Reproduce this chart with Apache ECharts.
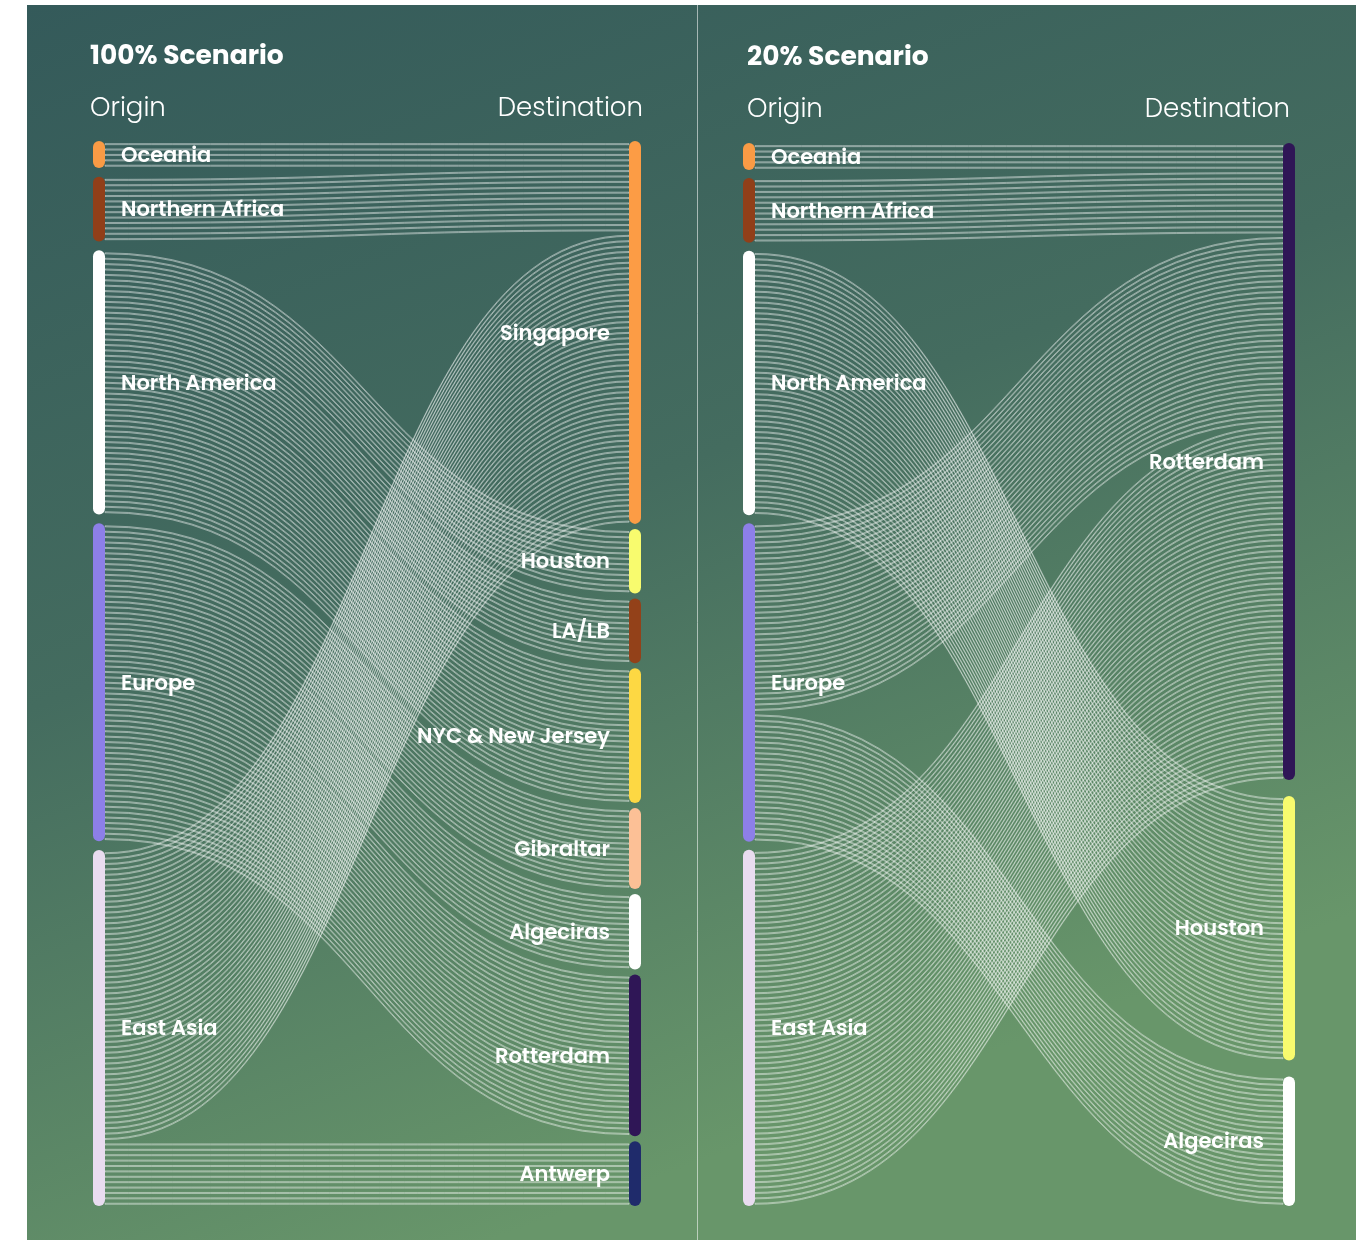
<!DOCTYPE html>
<html>
<head>
<meta charset="utf-8">
<script src="https://cdn.jsdelivr.net/npm/echarts@6/dist/echarts.min.js"></script>
<style>
  html, body { margin: 0; padding: 0; background: #fff; }
  #chart { width: 1368px; height: 1240px; }
</style>
</head>
<body>
<div id="chart"></div>
<script>
// origins are the same for both scenarios
const origins = ["Oceania", "Northern Africa", "North America", "Europe", "East Asia"];
const ports100 = ["Singapore", "Houston", "LA/LB", "NYC & New Jersey", "Gibraltar", "Algeciras", "Rotterdam", "Antwerp"];
const ports20 = ["Rotterdam", "Houston", "Algeciras"];

// [origin, destination, number of strands]
const flows100 = [
  ["Oceania", "Singapore", 5],
  ["Northern Africa", "Singapore", 12],
  ["North America", "Houston", 12],
  ["North America", "LA/LB", 12],
  ["North America", "NYC & New Jersey", 25],
  ["Europe", "Gibraltar", 15],
  ["Europe", "Algeciras", 14],
  ["Europe", "Rotterdam", 30],
  ["East Asia", "Singapore", 54],
  ["East Asia", "Antwerp", 12]
];
const flows20 = [
  ["Oceania", "Rotterdam", 5],
  ["Northern Africa", "Rotterdam", 12],
  ["North America", "Houston", 49],
  ["Europe", "Rotterdam", 35],
  ["Europe", "Algeciras", 24],
  ["East Asia", "Rotterdam", 66]
];

const colors = {
  "Oceania": "#f99b45",
  "Northern Africa": "#913f19",
  "North America": "#ffffff",
  "Europe": "#8d7fe8",
  "East Asia": "#e9dcf0",
  "Singapore": "#fc9c45",
  "Houston": "#f8fb6e",
  "LA/LB": "#934119",
  "NYC & New Jersey": "#fdd843",
  "Gibraltar": "#fcc096",
  "Algeciras": "#ffffff",
  "Rotterdam": "#2f1656",
  "Antwerp": "#1f2b6b"
};

const FONT = "Poppins, Inter, 'Noto Sans', sans-serif";
const HAIR = 0.02;

// each unit becomes a hairline link padded by two invisible halves
const strands = (flows) => {
  const out = [];
  const pad = (1 - HAIR) / 2;
  flows.forEach(([s, t, v]) => {
    for (let i = 0; i < v; i++) {
      out.push({ source: s, target: t, value: pad });
      out.push({ source: s, target: t, value: HAIR, lineStyle: { borderWidth: 1 } });
      out.push({ source: s, target: t, value: pad });
    }
  });
  return out;
};

// keep the given order and stretch every column over the full height
const nodes = (ports, flows, h, gap) => {
  const total = {};
  flows.forEach(([s, t, v]) => {
    total[s] = (total[s] || 0) + v;
    total[t] = (total[t] || 0) + v;
  });
  const cols = [origins, ports];
  const colSum = (c) => c.reduce((a, n) => a + total[n], 0);
  const ky = Math.min(...cols.map((c) => (h - (c.length - 1) * gap) / colSum(c)));
  const out = [];
  cols.forEach((c) => {
    const g = (h - colSum(c) * ky) / (c.length - 1);
    let y = 0;
    c.forEach((n) => {
      out.push({ name: n, localY: y / h, itemStyle: { color: colors[n] } });
      y += total[n] * ky + g;
    });
  });
  return out;
};

const sankey = (box, gap, ports, flows) => ({
  type: "sankey",
  left: box[0], top: box[1], width: box[2], height: box[3],
  nodeWidth: 12,
  nodeGap: gap,
  layoutIterations: 0,
  draggable: false,
  silent: true,
  emphasis: { disabled: true },
  data: nodes(ports, flows, box[3], gap),
  links: strands(flows),
  itemStyle: { borderWidth: 0, borderRadius: 6 },
  lineStyle: {
    color: "rgba(0,0,0,0)",
    borderColor: "rgba(255,255,255,0.45)",
    borderWidth: 0,
    opacity: 1,
    curveness: 0.5
  },
  label: { color: "#fff", fontFamily: FONT, fontWeight: 600, fontSize: 21, offset: [0, 2] },
  levels: [
    { depth: 0, label: { position: "right", distance: 16 } },
    { depth: 1, label: { position: "left", distance: 19 } }
  ]
});

const chart = echarts.init(document.getElementById("chart"));

const head = (text, pos, size, weight) => ({
  text: text,
  ...pos,
  padding: 0,
  textStyle: { color: "#fff", fontFamily: FONT, fontSize: size, fontWeight: weight }
});

chart.setOption({
  animation: false,
  backgroundColor: "#fff",
  graphic: [
    {
      type: "rect", z: -10,
      shape: { x: 27, y: 5, width: 1329, height: 1235 },
      style: {
        fill: new echarts.graphic.LinearGradient(0, 0, 0.35, 1, [
          { offset: 0, color: "#345a5a" },
          { offset: 0.5, color: "#446c5f" },
          { offset: 1, color: "#68966a" }
        ])
      }
    },
    {
      type: "line", z: -5,
      shape: { x1: 697.5, y1: 5, x2: 697.5, y2: 1240 },
      style: { stroke: "rgba(255,255,255,0.55)", lineWidth: 1 }
    }
  ],
  title: [
    head("100% Scenario", { left: 90, top: 44 }, 26.5, 700),
    head("Origin", { left: 90, top: 96 }, 26, 300),
    head("Destination", { right: 725, top: 96 }, 26, 300),
    head("20% Scenario", { left: 747, top: 45 }, 26.5, 700),
    head("Origin", { left: 747, top: 97 }, 26, 300),
    head("Destination", { right: 78, top: 97 }, 26, 300)
  ],
  series: [
    sankey([93, 141, 548, 1065], 5, ports100, flows100),
    sankey([743, 143, 552, 1063], 8, ports20, flows20)
  ]
});
</script>
</body>
</html>
